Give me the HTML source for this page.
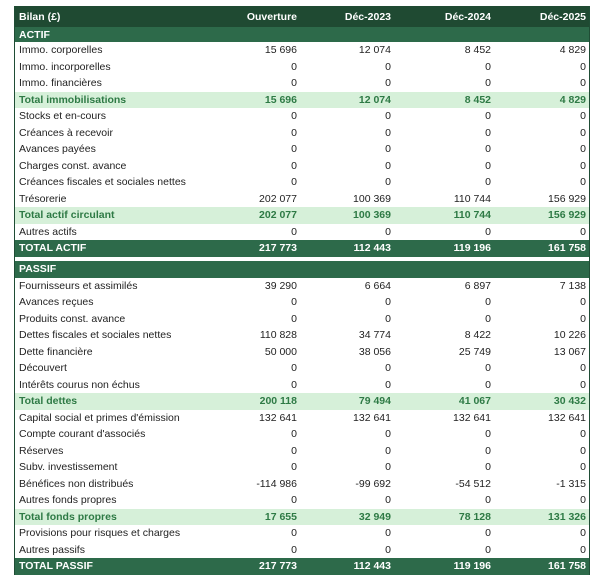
<!DOCTYPE html>
<html><head><meta charset="utf-8"><style>
body{margin:0;width:600px;height:583px;background:#fff;font-family:"Liberation Sans",sans-serif;font-size:10.5px;color:#222;position:relative;overflow:hidden}
.t{position:absolute;left:14px;top:6px;width:574px;border-left:1px solid #1f4d35;border-right:1px solid #1f4d35}
.r{display:flex;height:16.5px;align-items:center;box-sizing:border-box}
.r div{flex:none;white-space:nowrap}
.l{width:200px;padding-left:4px}
.v{text-align:right}
.c1{width:78px}.c2{width:94px}.c3{width:100px}.c4{width:95px}
.h{background:#1f4a32;color:#fff;font-weight:bold;height:21px}
.s{background:#2d6a4a;color:#fff;font-weight:bold;height:15px}
.tot{background:#d6f0d9;color:#2e7a45;font-weight:bold}
.gt{background:#2d6a4a;color:#fff;font-weight:bold}
.gap{height:4px;background:#fff}
</style></head><body>
<div class="t">
<div class="r h"><div class="l">Bilan (£)</div><div class="v c1">Ouverture</div><div class="v c2">Déc-2023</div><div class="v c3">Déc-2024</div><div class="v c4">Déc-2025</div></div>
<div class="r s"><div class="l">ACTIF</div></div>
<div class="r"><div class="l">Immo. corporelles</div><div class="v c1">15 696</div><div class="v c2">12 074</div><div class="v c3">8 452</div><div class="v c4">4 829</div></div>
<div class="r"><div class="l">Immo. incorporelles</div><div class="v c1">0</div><div class="v c2">0</div><div class="v c3">0</div><div class="v c4">0</div></div>
<div class="r"><div class="l">Immo. financières</div><div class="v c1">0</div><div class="v c2">0</div><div class="v c3">0</div><div class="v c4">0</div></div>
<div class="r tot"><div class="l">Total immobilisations</div><div class="v c1">15 696</div><div class="v c2">12 074</div><div class="v c3">8 452</div><div class="v c4">4 829</div></div>
<div class="r"><div class="l">Stocks et en-cours</div><div class="v c1">0</div><div class="v c2">0</div><div class="v c3">0</div><div class="v c4">0</div></div>
<div class="r"><div class="l">Créances à recevoir</div><div class="v c1">0</div><div class="v c2">0</div><div class="v c3">0</div><div class="v c4">0</div></div>
<div class="r"><div class="l">Avances payées</div><div class="v c1">0</div><div class="v c2">0</div><div class="v c3">0</div><div class="v c4">0</div></div>
<div class="r"><div class="l">Charges const. avance</div><div class="v c1">0</div><div class="v c2">0</div><div class="v c3">0</div><div class="v c4">0</div></div>
<div class="r"><div class="l">Créances fiscales et sociales nettes</div><div class="v c1">0</div><div class="v c2">0</div><div class="v c3">0</div><div class="v c4">0</div></div>
<div class="r"><div class="l">Trésorerie</div><div class="v c1">202 077</div><div class="v c2">100 369</div><div class="v c3">110 744</div><div class="v c4">156 929</div></div>
<div class="r tot"><div class="l">Total actif circulant</div><div class="v c1">202 077</div><div class="v c2">100 369</div><div class="v c3">110 744</div><div class="v c4">156 929</div></div>
<div class="r"><div class="l">Autres actifs</div><div class="v c1">0</div><div class="v c2">0</div><div class="v c3">0</div><div class="v c4">0</div></div>
<div class="r gt"><div class="l">TOTAL ACTIF</div><div class="v c1">217 773</div><div class="v c2">112 443</div><div class="v c3">119 196</div><div class="v c4">161 758</div></div>
<div class="gap"></div>
<div class="r s" style="height:17px"><div class="l">PASSIF</div></div>
<div class="r"><div class="l">Fournisseurs et assimilés</div><div class="v c1">39 290</div><div class="v c2">6 664</div><div class="v c3">6 897</div><div class="v c4">7 138</div></div>
<div class="r"><div class="l">Avances reçues</div><div class="v c1">0</div><div class="v c2">0</div><div class="v c3">0</div><div class="v c4">0</div></div>
<div class="r"><div class="l">Produits const. avance</div><div class="v c1">0</div><div class="v c2">0</div><div class="v c3">0</div><div class="v c4">0</div></div>
<div class="r"><div class="l">Dettes fiscales et sociales nettes</div><div class="v c1">110 828</div><div class="v c2">34 774</div><div class="v c3">8 422</div><div class="v c4">10 226</div></div>
<div class="r"><div class="l">Dette financière</div><div class="v c1">50 000</div><div class="v c2">38 056</div><div class="v c3">25 749</div><div class="v c4">13 067</div></div>
<div class="r"><div class="l">Découvert</div><div class="v c1">0</div><div class="v c2">0</div><div class="v c3">0</div><div class="v c4">0</div></div>
<div class="r"><div class="l">Intérêts courus non échus</div><div class="v c1">0</div><div class="v c2">0</div><div class="v c3">0</div><div class="v c4">0</div></div>
<div class="r tot"><div class="l">Total dettes</div><div class="v c1">200 118</div><div class="v c2">79 494</div><div class="v c3">41 067</div><div class="v c4">30 432</div></div>
<div class="r"><div class="l">Capital social et primes d'émission</div><div class="v c1">132 641</div><div class="v c2">132 641</div><div class="v c3">132 641</div><div class="v c4">132 641</div></div>
<div class="r"><div class="l">Compte courant d'associés</div><div class="v c1">0</div><div class="v c2">0</div><div class="v c3">0</div><div class="v c4">0</div></div>
<div class="r"><div class="l">Réserves</div><div class="v c1">0</div><div class="v c2">0</div><div class="v c3">0</div><div class="v c4">0</div></div>
<div class="r"><div class="l">Subv. investissement</div><div class="v c1">0</div><div class="v c2">0</div><div class="v c3">0</div><div class="v c4">0</div></div>
<div class="r"><div class="l">Bénéfices non distribués</div><div class="v c1">-114 986</div><div class="v c2">-99 692</div><div class="v c3">-54 512</div><div class="v c4">-1 315</div></div>
<div class="r"><div class="l">Autres fonds propres</div><div class="v c1">0</div><div class="v c2">0</div><div class="v c3">0</div><div class="v c4">0</div></div>
<div class="r tot"><div class="l">Total fonds propres</div><div class="v c1">17 655</div><div class="v c2">32 949</div><div class="v c3">78 128</div><div class="v c4">131 326</div></div>
<div class="r"><div class="l">Provisions pour risques et charges</div><div class="v c1">0</div><div class="v c2">0</div><div class="v c3">0</div><div class="v c4">0</div></div>
<div class="r"><div class="l">Autres passifs</div><div class="v c1">0</div><div class="v c2">0</div><div class="v c3">0</div><div class="v c4">0</div></div>
<div class="r gt"><div class="l">TOTAL PASSIF</div><div class="v c1">217 773</div><div class="v c2">112 443</div><div class="v c3">119 196</div><div class="v c4">161 758</div></div>
</div>
</body></html>
